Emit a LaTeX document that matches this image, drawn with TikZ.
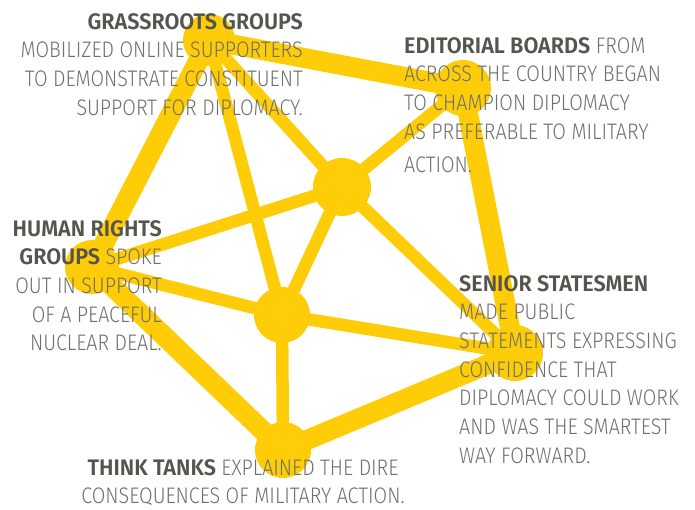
\documentclass[tikz,border=0pt]{standalone}
\usepackage{fontspec}
\IfFontExistsTF{Fira Sans Light}
  {\newfontfamily\lightf[FakeStretch=0.875]{Fira Sans Light}}
  {\newfontfamily\lightf[FakeStretch=0.875]{Fira Sans}}
\IfFontExistsTF{Fira Sans SemiBold}
  {\newfontfamily\boldf[FakeStretch=0.96]{Fira Sans SemiBold}\newcommand{\hdweight}{}}
  {\newfontfamily\boldf[FakeStretch=0.94]{Fira Sans}\newcommand{\hdweight}{\bfseries}}
\definecolor{netyellow}{RGB}{255,204,8}
\definecolor{headgray}{RGB}{85,85,78}
\definecolor{bodygray}{RGB}{112,112,106}
\newcommand{\hd}[1]{{\boldf\hdweight\color{headgray}#1}}
\tikzset{
  hub/.style={circle, fill=netyellow, inner sep=0pt, minimum size=#1},
  rim/.style={draw=netyellow, line width=20pt, line cap=round, line join=round},
  spoke/.style={draw=netyellow, line width=12.5pt, line cap=round},
  txt/.style={inner sep=0pt, text=bodygray, font=\lightf\fontsize{22.5}{28.7}\selectfont},
}
\begin{document}
\begin{tikzpicture}[x=1pt,y=-1pt]
\useasboundingbox (0,0) rectangle (695,509);
% nodes (circles)
\coordinate (G) at (209,40);
\coordinate (E) at (463,88);
\coordinate (H) at (92,267);
\coordinate (S) at (515,353);
\coordinate (T) at (283,450);
\coordinate (A) at (342,187);
\coordinate (B) at (282,315);
% inner spokes
\draw[spoke] (G) -- (A);
\draw[spoke] (G) -- (B);
\draw[spoke] (E) -- (A);
\draw[spoke] (H) -- (A);
\draw[spoke] (H) -- (B);
\draw[spoke] (A) -- (B);
\draw[spoke] (A) -- (S);
\draw[spoke] (B) -- (S);
\draw[spoke] (B) -- (T);
% outer rim
\draw[rim] (G) -- (E) -- (S) -- (T) -- (H) -- cycle;
% hubs
\node[hub=52pt] (nG) at (G) {};
\node[hub=56pt] (nE) at (E) {};
\node[hub=54pt] (nH) at (H) {};
\node[hub=56pt] (nS) at (S) {};
\node[hub=56pt] (nT) at (T) {};
\node[hub=58pt] (nA) at (A) {};
\node[hub=56pt] (nB) at (B) {};
% texts
\node[txt, align=right, anchor=north east] (tG) at (303,13)
  {\hd{GRASSROOTS GROUPS}\\MOBILIZED ONLINE SUPPORTERS\\TO DEMONSTRATE CONSTITUENT\\SUPPORT FOR DIPLOMACY.};
\node[txt, align=left, anchor=north west] (tE) at (404,37)
  {\hd{EDITORIAL BOARDS} FROM\\ACROSS THE COUNTRY BEGAN\\TO CHAMPION DIPLOMACY\\AS PREFERABLE TO MILITARY\\[5pt]ACTION.};
\node[txt, align=right, anchor=north east] (tH) at (162,220)
  {\hd{HUMAN RIGHTS}\\\hd{GROUPS} SPOKE\\OUT IN SUPPORT\\OF A PEACEFUL\\NUCLEAR DEAL.};
\node[txt, align=left, anchor=north west] (tS) at (459,275)
  {\hd{SENIOR STATESMEN}\\MADE PUBLIC\\STATEMENTS EXPRESSING\\CONFIDENCE THAT\\DIPLOMACY COULD WORK\\AND WAS THE SMARTEST\\WAY FORWARD.};
\node[txt, align=center, anchor=north] (tT) at (243,459)
  {\hd{THINK TANKS} EXPLAINED THE DIRE\\CONSEQUENCES OF MILITARY ACTION.};
\end{tikzpicture}
\end{document}
